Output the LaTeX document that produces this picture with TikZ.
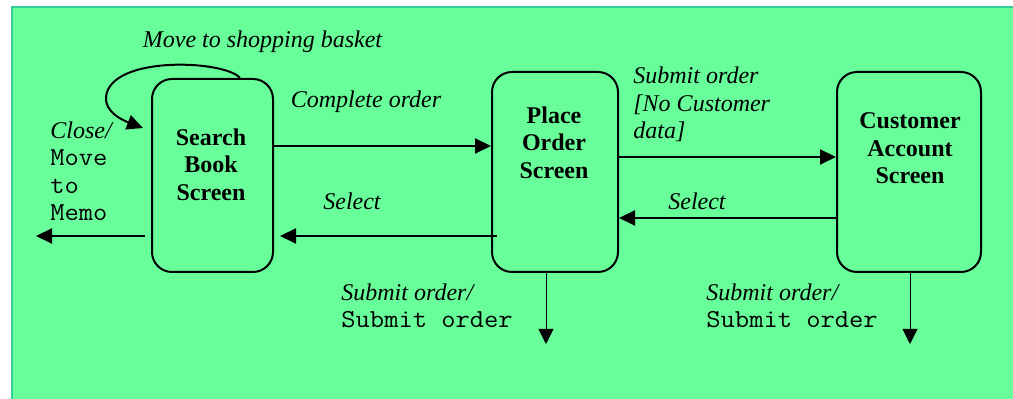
\documentclass[tikz,border=0pt]{standalone}
\usepackage{fontspec}
\setmainfont{Liberation Serif}
\setmonofont[Scale=1.08,FakeStretch=1.07]{Latin Modern Mono}
\usetikzlibrary{arrows.meta,calc}
\definecolor{bg}{RGB}{104,255,154}
\definecolor{edgecol}{RGB}{51,204,153}
\tikzset{
  screen/.style={draw=black, line width=1pt, rounded corners=10pt, fill=bg, inner sep=0pt},
  title/.style={font=\fontsize{12}{13.8}\selectfont\bfseries, align=center, inner sep=0pt},
  lab/.style={font=\fontsize{12}{13.8}\selectfont\itshape, inner sep=0pt},
  blocklab/.style={font=\fontsize{12}{13.8}\selectfont, align=left, inner sep=0pt, anchor=north west},
  conn/.style={line width=1pt, -{Triangle[length=8pt,width=7.5pt]}},
  thinconn/.style={line width=0.5pt, -{Triangle[length=7.5pt,width=7.5pt]}},
}
\begin{document}
\begin{tikzpicture}[x=0.5pt,y=-0.5pt]
\useasboundingbox (0,0) rectangle (1013,399);
\fill[bg] (11,6) rectangle (1013,399);
\draw[edgecol, line width=1pt] (12,399) -- (12,7) -- (1013,7);

% screens
\node[screen, minimum width=60.5pt, minimum height=96.5pt] (search) at (212.5,175.5) {};
\node[screen, minimum width=63pt, minimum height=100pt] (place) at (555,172) {};
\node[screen, minimum width=72pt, minimum height=100pt] (cust) at (909,172) {};

\node[title] (searcht) at (211,164.5) {Search\\Book\\Screen};
\node[title] (placet) at (554,142.5) {Place\\Order\\Screen};
\node[title] (custt) at (910,148.5) {Customer\\Account\\Screen};

% labels
\node[lab, anchor=base] (lmove) at (262.5,48) {Move to shopping basket};
\node[lab, anchor=base] (lcomplete) at (366,108) {Complete order};
\node[lab, anchor=base] (lselect1) at (352,210) {Select};
\node[lab, anchor=base] (lselect2) at (697,210) {Select};
\node[blocklab] (lclose) at (50,121) {\textit{Close/}\\\texttt{Move}\\\texttt{to}\\\texttt{Memo}};
\node[blocklab] (lsubmit) at (633,66.5) {\textit{Submit order}\\\textit{[No Customer}\\\textit{data]}};
\node[blocklab] (lsub1) at (341,283) {\textit{Submit order/}\\\texttt{Submit order}};
\node[blocklab] (lsub2) at (706,283) {\textit{Submit order/}\\\texttt{Submit order}};

% connectors
\coordinate (c1) at ([yshift=14.75pt]search.east);
\draw[conn] (c1) -- (c1 -| place.west);

\coordinate (s1) at ([xshift=3pt,yshift=-32pt]place.west);
\coordinate (s2) at (s1 -| search.east);
\draw[conn] (s1) -- ([xshift=3pt]s2);

\coordinate (closeend) at (36,236);
\coordinate (cl) at ([xshift=-3pt,yshift=-30.25pt]search.west);
\draw[conn] (cl) -- (cl -| closeend);

\coordinate (c3) at ([yshift=7.5pt]place.east);
\draw[conn] (c3) -- (c3 -| cust.west);

\coordinate (c4) at ([yshift=-23pt]cust.west);
\draw[conn] (c4) -- (c4 -| place.east);

\coordinate (d1) at ([xshift=-4.5pt]place.south);
\coordinate (d1e) at (546,344);
\draw[thinconn] (d1) -- (d1e);
\coordinate (d2) at ([xshift=0.5pt]cust.south);
\coordinate (d2e) at (910,344);
\draw[thinconn] (d2) -- (d2e);

% self loop
\coordinate (ls) at ([xshift=13.75pt]search.north);
\coordinate (loopend) at (143,128);
\draw[conn] (ls) .. controls (225,60) and (110,55) .. (106,97) .. controls (104.6,111.7) and (122,120) .. (loopend);
\end{tikzpicture}
\end{document}
